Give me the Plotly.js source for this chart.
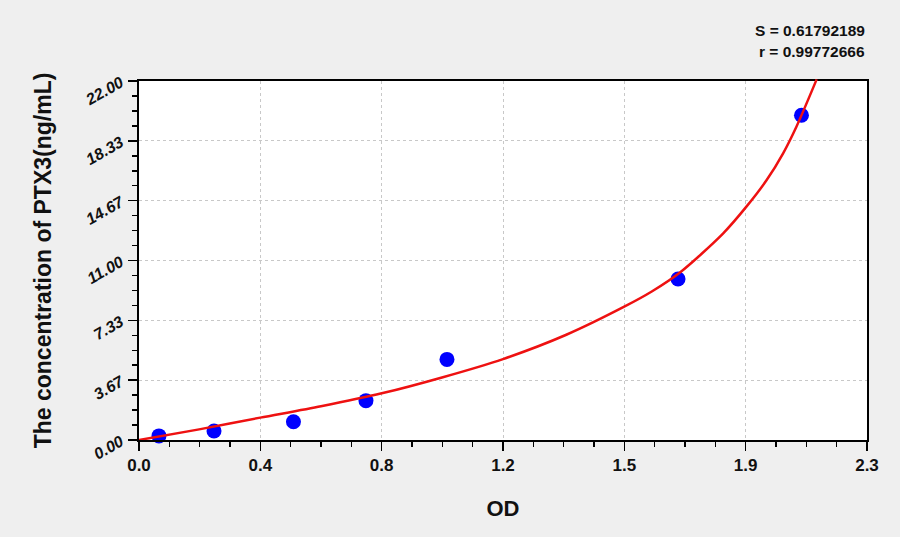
<!DOCTYPE html>
<html>
<head>
<meta charset="utf-8">
<script src="https://cdn.plot.ly/plotly-3.0.1.min.js"></script>
<style>
  html, body { margin: 0; padding: 0; background: #efefef; }
  #chart { width: 900px; height: 537px; }
</style>
</head>
<body>
<div id="chart"></div>
<script>
/* ---- standard points (OD vs concentration) ---- */
const odPoints = [0.063, 0.237, 0.488, 0.717, 0.973, 1.703, 2.093];
const concPoints = [0.25, 0.55, 1.12, 2.41, 4.94, 9.87, 19.9];

/* ---- fitted curve ---- */
const curveOD = [0.0, 0.19, 0.383, 0.575, 0.767, 0.96, 1.15, 1.35, 1.533, 1.62, 1.708, 1.845, 1.919, 1.983, 2.035, 2.077, 2.141];
const curveConc = [0.0, 0.65, 1.37, 2.07, 2.86, 3.85, 4.96, 6.45, 8.17, 9.1, 10.25, 12.65, 14.3, 15.93, 17.57, 19.2, 22.1];

/* ---- ticks ---- */
const xTickVals = [0, 0.3833, 0.7667, 1.15, 1.5333, 1.9167, 2.3];
const xTickText = ["0.0", "0.4", "0.8", "1.2", "1.5", "1.9", "2.3"];
const yTickVals = [0, 3.6667, 7.3333, 11, 14.6667, 18.3333, 22];
const yTickText = ["0.00", "3.67", "7.33", "11.00", "14.67", "18.33", "22.00"];

const statS = "S = 0.61792189";
const statR = "r = 0.99772666";

const X_MAX = 2.3, Y_MAX = 22;
const PLOT_H = 370, BOX_H = 359; // curve may run a bit above the box

const fontB = "Liberation Sans, Arial, sans-serif";

const traces = [
  {
    x: odPoints,
    y: concPoints,
    type: "scatter",
    mode: "markers",
    marker: { color: "#0000ff", size: 15 },
    xaxis: "x",
    yaxis: "y",
    cliponaxis: false,
    hoverinfo: "x+y",
  },
  {
    x: curveOD,
    y: curveConc,
    type: "scatter",
    mode: "lines",
    line: { color: "#ee1111", width: 2.5, shape: "spline", smoothing: 0.8 },
    xaxis: "x2",
    yaxis: "y2",
    hoverinfo: "skip",
  },
];

const layout = {
  width: 900,
  height: 537,
  margin: { l: 139, r: 33, t: 70, b: 97 },
  paper_bgcolor: "#efefef",
  plot_bgcolor: "rgba(0,0,0,0)",
  showlegend: false,
  font: { family: fontB, color: "#111" },
  xaxis: {
    domain: [0, 1],
    anchor: "y",
    range: [0, X_MAX],
    tickmode: "array",
    tickvals: xTickVals,
    ticktext: xTickText,
    ticks: "outside",
    ticklen: 9,
    tickwidth: 1.5,
    tickcolor: "#000",
    minor: { dtick: X_MAX / 24, tick0: 0, ticks: "outside", ticklen: 5, tickwidth: 1.5, tickcolor: "#000", showgrid: false },
    tickfont: { family: fontB, size: 17, weight: "bold", color: "#111" },
    showline: true,
    linecolor: "#000",
    linewidth: 2,
    mirror: true,
    showgrid: true,
    gridcolor: "#c8c8c8",
    griddash: "dot",
    gridwidth: 1,
    zeroline: false,
    title: { text: "OD", font: { family: fontB, size: 22, weight: "bold", color: "#111" }, standoff: 26 },
  },
  yaxis: {
    domain: [0, BOX_H / PLOT_H],
    anchor: "x",
    range: [0, Y_MAX],
    tickmode: "array",
    tickvals: yTickVals,
    ticktext: yTickText,
    tickangle: -30,
    ticks: "outside",
    ticklen: 9,
    tickwidth: 1.5,
    tickcolor: "#000",
    ticklabelstandoff: 4,
    minor: { dtick: Y_MAX / 24, tick0: 0, ticks: "outside", ticklen: 5, tickwidth: 1.5, tickcolor: "#000", showgrid: false },
    tickfont: { family: fontB, size: 16, weight: "bold", style: "italic", color: "#111" },
    showline: true,
    linecolor: "#000",
    linewidth: 2,
    mirror: true,
    showgrid: true,
    gridcolor: "#c8c8c8",
    griddash: "dot",
    gridwidth: 1,
    zeroline: false,
    title: { text: "The concentration of PTX3(ng/mL)", font: { family: fontB, size: 23, weight: "bold", color: "#111" }, standoff: 24 },
  },
  xaxis2: {
    domain: [0, 1],
    anchor: "y2",
    range: [0, X_MAX],
    visible: false,
  },
  yaxis2: {
    domain: [0, 1],
    anchor: "x2",
    range: [0, (Y_MAX * PLOT_H) / BOX_H],
    visible: false,
  },
  shapes: [
    {
      type: "rect",
      xref: "x domain",
      yref: "y domain",
      x0: 0, x1: 1, y0: 0, y1: 1,
      fillcolor: "#ffffff",
      line: { width: 0 },
      layer: "below",
    },
  ],
  annotations: [
    {
      text: "<b>" + statS + "</b>",
      xref: "paper", yref: "paper",
      x: 1, y: 1, yanchor: "bottom", xanchor: "right",
      yshift: 29,
      showarrow: false,
      font: { family: fontB, size: 15.5, color: "#111" },
    },
    {
      text: "<b>" + statR + "</b>",
      xref: "paper", yref: "paper",
      x: 1, y: 1, yanchor: "bottom", xanchor: "right",
      yshift: 8,
      showarrow: false,
      font: { family: fontB, size: 15.5, color: "#111" },
    },
  ],
};

Plotly.newPlot("chart", traces, layout, { displayModeBar: false, staticPlot: true });
</script>
</body>
</html>
